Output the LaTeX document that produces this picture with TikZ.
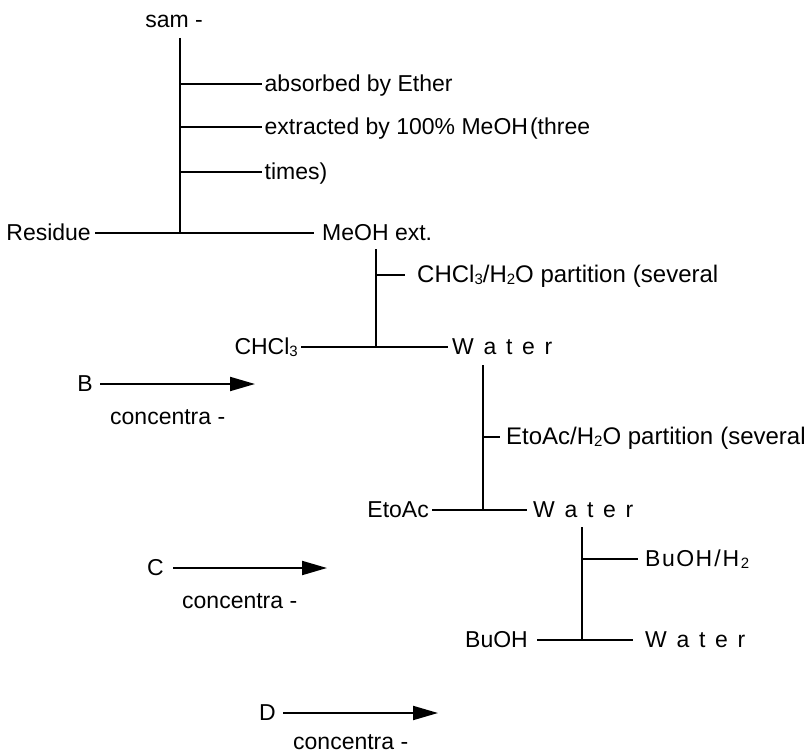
\documentclass[tikz,border=0pt]{standalone}
\usepackage{fontspec}
\setmainfont{Liberation Sans}
\usetikzlibrary{arrows.meta}
\newcommand\fs{\fontsize{23}{26}\selectfont}
\newcommand\fsb{\fontsize{24}{27}\selectfont}
\newcommand\sbs[1]{\raisebox{-1.5pt}{\fontsize{15}{15}\selectfont #1}}
\newcommand\wtr{W\kern9.7pt a\kern9.7pt t\kern9.7pt e\kern9.7pt r}
\begin{document}
\begin{tikzpicture}[x=1pt,y=-1pt,
  txt/.style={font=\fs, inner ysep=0pt, inner xsep=3pt, text height=15pt, text depth=0pt},
  ln/.style={line width=2pt},
  arr/.style={line width=2pt, -{Triangle[length=25pt,width=14pt]}}]
\useasboundingbox (0,0) rectangle (811,754);

% ---- tree 1
\node[txt] (sam) at (174,20) {sam -};
\coordinate (top1) at (180,38);
\coordinate (j1) at (180,233);
\coordinate (a1) at (180,84);
\coordinate (a2) at (180,127);
\coordinate (a3) at (180,172);
\node[txt,anchor=west,inner xsep=2.5pt] (e1) at (262,84) {absorbed by Ether};
\node[txt,anchor=west,inner xsep=2.5pt] (e2) at (262,127) {extracted by 100\% MeOH\kern2pt(three};
\node[txt,anchor=west,inner xsep=2.5pt] (e3) at (262,172) {times)};
\node[txt,anchor=east,inner xsep=4pt] (res) at (95,233) {Residue};
\node[txt,anchor=west,inner xsep=8pt] (meoh) at (314,233) {MeOH ext.};
\draw[ln] (top1) -- (j1);
\draw[ln] (a1) -- (e1.west);
\draw[ln] (a2) -- (e2.west);
\draw[ln] (a3) -- (e3.west);
\draw[ln] (res.east) -- (meoh.west);

% ---- tree 2
\coordinate (top2) at (376,249);
\coordinate (j2) at (376,347);
\coordinate (b1) at (376,275);
\node[txt,font=\fsb,anchor=west,inner xsep=12pt] (p1) at (405,275) {CHCl\sbs{3}/H\sbs{2}O partition\kern7pt(several};
\node[txt,anchor=east,inner xsep=3pt] (chcl) at (301,347) {CHCl\sbs{3}};
\node[txt,anchor=west,inner xsep=4pt] (w1) at (448,347) {\wtr};
\draw[ln] (top2) -- (j2);
\draw[ln] (b1) -- (p1.west);
\draw[ln] (chcl.east) -- (w1.west);

% ---- tree 3
\coordinate (top3) at (483,365);
\coordinate (j3) at (483,510);
\coordinate (c1) at (483,437);
\node[txt,font=\fsb,anchor=west,inner xsep=6pt] (p2) at (500,437) {EtoAc/H\sbs{2}O partition\kern7pt(several};
\node[txt,anchor=east,inner xsep=3pt] (etoac) at (432,510) {EtoAc};
\node[txt,anchor=west,inner xsep=6pt] (w2) at (527,510) {\wtr};
\draw[ln] (top3) -- (j3);
\draw[ln] (c1) -- (p2.west);
\draw[ln] (etoac.east) -- (w2.west);

% ---- tree 4
\coordinate (top4) at (582,527);
\coordinate (j4) at (582,640);
\coordinate (d1) at (582,559);
\node[txt,anchor=west,inner xsep=7pt] (p3) at (638,559) {B\kern1.5pt u\kern1.5pt O\kern1.5pt H\kern2pt/\kern2pt H\kern1.5pt\sbs{2}};
\node[txt,anchor=east,inner xsep=9pt] (buoh) at (537,640) {BuOH};
\node[txt,anchor=west,inner xsep=12pt] (w3) at (633,640) {\wtr};
\draw[ln] (top4) -- (j4);
\draw[ln] (d1) -- (p3.west);
\draw[ln] (buoh.east) -- (w3.west);

% ---- arrows
\node[txt,anchor=east,inner xsep=7pt] (B) at (100,384) {B};
\coordinate (bt) at (255,384);
\draw[arr] (B.east) -- (bt);
\node[txt,anchor=west] (cB) at (107,416.5) {concentra -};

\node[txt,anchor=east,inner xsep=9pt] (C) at (173,568) {C};
\coordinate (ct) at (327,568);
\draw[arr] (C.east) -- (ct);
\node[txt,anchor=west] (cC) at (179,600.5) {concentra -};

\node[txt,anchor=east,inner xsep=7pt] (D) at (283,713) {D};
\coordinate (dt) at (438,713);
\draw[arr] (D.east) -- (dt);
\node[txt,anchor=west] (cD) at (290,741.5) {concentra -};
\end{tikzpicture}
\end{document}
